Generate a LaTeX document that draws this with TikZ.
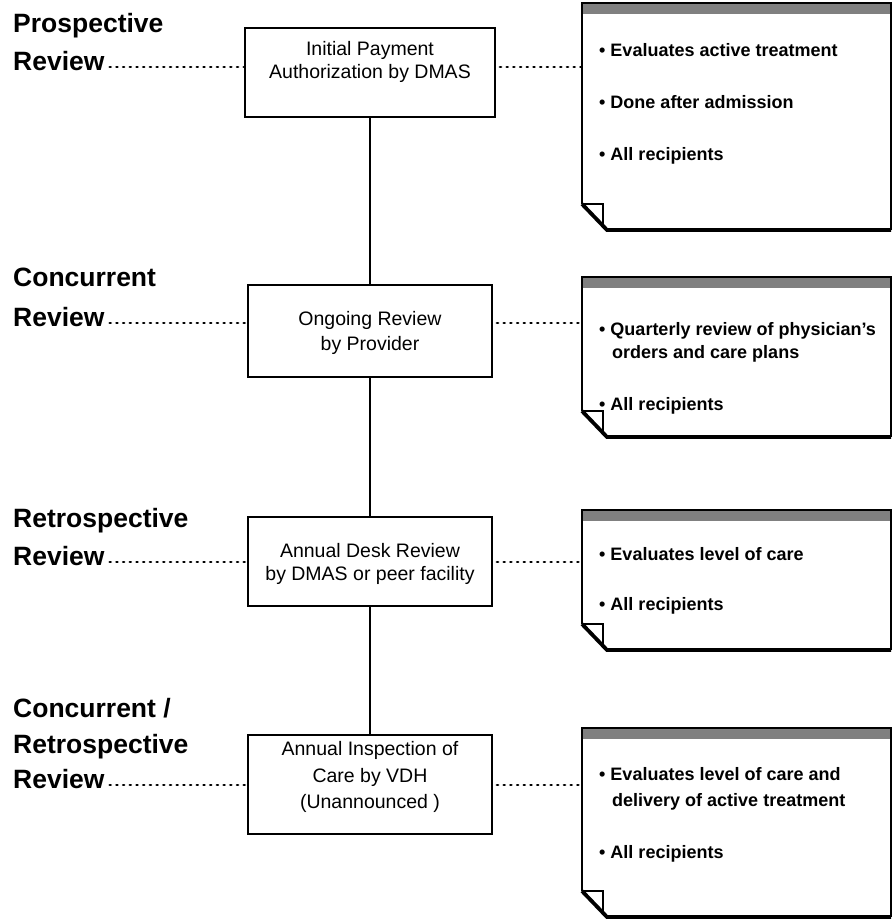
\documentclass[tikz,border=0pt]{standalone}
\usepackage{fontspec}
\setmainfont{Liberation Sans}
\newcommand{\drawnote}[3]{%
  \node[notearea, minimum height={#2-#1}] (#3) at (736.5,{(#1+#2)/2}) {};
  \fill[bandfill] (582,#1) rectangle (891,#1+11);
  \draw[noteline] (891,#2) -- (891,#1) -- (582,#1) -- (582,#2-26);
  \draw[line width=3.8pt] (582,#2-26) -- (607,#2) -- (891,#2);
  \draw[noteline] (582,#2-26) -- (603,#2-26) -- (603,#2-4);
}
\begin{document}
\begin{tikzpicture}[x=1pt,y=-1pt,
  lbl/.style={anchor=base west, inner sep=0pt, font=\fontsize{26.5}{30}\selectfont\bfseries},
  revbox/.style={draw, line width=2pt, inner sep=0pt, minimum width=244pt},
  btxt/.style={anchor=base, inner sep=0pt, font=\fontsize{19.5}{23}\selectfont},
  ntxt/.style={anchor=base west, inner sep=0pt, font=\fontsize{18}{22}\selectfont\bfseries},
  notearea/.style={inner sep=0pt, minimum width=309pt},
  bandfill/.style={fill=black!50},
  noteline/.style={line width=2pt, line join=miter},
  vline/.style={line width=2pt},
  dotline/.style={line width=2.7pt, dash pattern=on 1pt off 5.7pt, line cap=round}
]
\fill[white] (0,0) rectangle (893,922);
\useasboundingbox (0,0) rectangle (893,922);

% left labels
\node[lbl] (p1a) at (13,32) {Prospective};
\node[lbl] (p1b) at (13,70) {Review};
\node[lbl] (c2a) at (13,286) {Concurrent};
\node[lbl] (c2b) at (13,326) {Review};
\node[lbl] (r3a) at (13,527) {Retrospective};
\node[lbl] (r3b) at (13,565) {Review};
\node[lbl] (c4a) at (13,717) {Concurrent /};
\node[lbl] (c4b) at (13,753) {Retrospective};
\node[lbl] (c4c) at (13,788) {Review};

% boxes
\node[revbox, minimum width=250pt, minimum height=89pt] (b1) at (370,72.5) {};
\node[revbox, minimum height=92pt] (b2) at (370,331) {};
\node[revbox, minimum height=89pt] (b3) at (370,561.5) {};
\node[revbox, minimum height=99pt] (b4) at (370,784.5) {};

\node[btxt] (b1t1) at (370,55) {Initial Payment};
\node[btxt] (b1t2) at (370,78) {Authorization by DMAS};
\node[btxt] (b2t1) at (370,325) {Ongoing Review};
\node[btxt] (b2t2) at (370,350) {by Provider};
\node[btxt] (b3t1) at (370,557) {Annual Desk Review};
\node[btxt] (b3t2) at (370,580) {by DMAS or peer facility};
\node[btxt] (b4t1) at (370,755) {Annual Inspection of};
\node[btxt] (b4t2) at (370,782) {Care by VDH};
\node[btxt] (b4t3) at (370,808) {(Unannounced )};

\draw[vline] (b1.south) -- (b2.north);
\draw[vline] (b2.south) -- (b3.north);
\draw[vline] (b3.south) -- (b4.north);

% notes
\drawnote{3}{230}{n1}
\drawnote{277}{437}{n2}
\drawnote{510}{650}{n3}
\drawnote{728}{917}{n4}

\node[ntxt] (n1a) at (599,56) {• Evaluates active treatment};
\node[ntxt] (n1b) at (599,108) {• Done after admission};
\node[ntxt] (n1c) at (599,160) {• All recipients};
\node[ntxt] (n2a) at (599,335) {• Quarterly review of physician's};
\node[ntxt] (n2b) at (612,358) {orders and care plans};
\node[ntxt] (n2c) at (599,410) {• All recipients};
\node[ntxt] (n3a) at (599,560) {• Evaluates level of care};
\node[ntxt] (n3b) at (599,610) {• All recipients};
\node[ntxt] (n4a) at (599,780) {• Evaluates level of care and};
\node[ntxt] (n4b) at (612,806) {delivery of active treatment};
\node[ntxt] (n4c) at (599,858) {• All recipients};

% dotted connectors
\coordinate (d1) at (0,67);
\coordinate (d2) at (0,323);
\coordinate (d3) at (0,562);
\coordinate (d4) at (0,785);
\draw[dotline] ([xshift=5pt]d1 -| p1b.east) -- (d1 -| b1.west);
\draw[dotline] ([xshift=5pt]d2 -| c2b.east) -- (d2 -| b2.west);
\draw[dotline] ([xshift=5pt]d3 -| r3b.east) -- (d3 -| b3.west);
\draw[dotline] ([xshift=5pt]d4 -| c4c.east) -- (d4 -| b4.west);
\draw[dotline] ([xshift=4pt]d1 -| b1.east) -- (d1 -| n1.west);
\draw[dotline] ([xshift=4pt]d2 -| b2.east) -- (d2 -| n2.west);
\draw[dotline] ([xshift=4pt]d3 -| b3.east) -- (d3 -| n3.west);
\draw[dotline] ([xshift=4pt]d4 -| b4.east) -- (d4 -| n4.west);
\end{tikzpicture}
\end{document}
